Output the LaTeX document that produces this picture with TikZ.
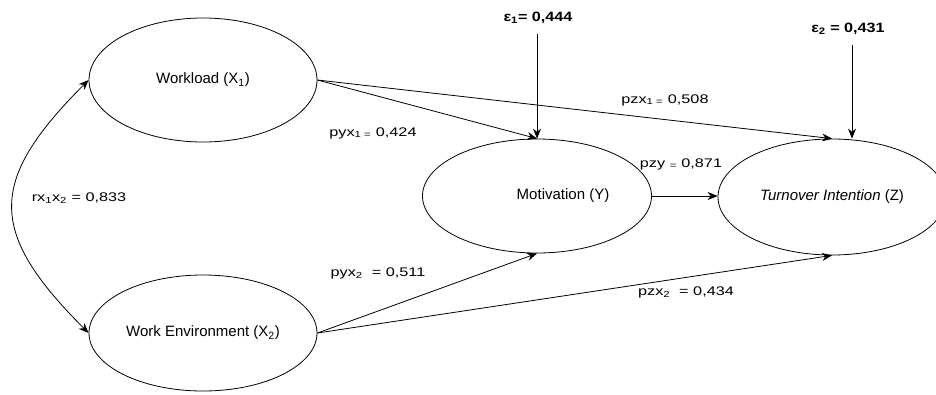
\documentclass[tikz,border=0pt]{standalone}
\usepackage{fontspec}
\setmainfont{Liberation Sans}
\newfontfamily\coeffont[FakeStretch=1.3]{Liberation Sans}
\newfontfamily\errfont[FakeStretch=1.2]{Liberation Sans}
\usetikzlibrary{shapes.geometric,arrows.meta,calc}

\begin{document}
\begin{tikzpicture}[x=1pt,y=-1pt,->,>={Stealth[length=10pt,width=8pt]},line width=0.8pt]
            \tikzstyle{construct}=[ellipse,draw,-,minimum width=228pt,minimum height=118pt,inner sep=0pt,font=\fontsize{15}{18}\selectfont]
            \tikzstyle{coef}=[font=\coeffont\fontsize{12.5}{14}\selectfont,inner sep=0pt]
            \tikzstyle{err}=[font=\errfont\bfseries\fontsize{13.5}{15}\selectfont,inner sep=0pt]

            \clip (0,0) rectangle (936,394);

            % Draw the constructs
            \node[construct,minimum height=124pt] (WL) at (203,80) {Workload (X\textsubscript{1})};
            \node[construct,minimum height=116pt] (WE) at (203,333) {Work Environment (X\textsubscript{2})};
            \node[construct,minimum height=114pt,minimum width=229pt] (MOT) at (537,196) {};
            \node[font=\fontsize{15}{18}\selectfont] (MOT-txt) at (563,196) {Motivation (Y)};
            \node[construct,minimum height=116pt] (TI) at (832,197) {\textit{Turnover Intention} (Z)};

            % Error terms
            \node[err] (E1) at (538,18) {ε\textsubscript{1}= 0,444};
            \node[err] (E2) at (848,29) {ε\textsubscript{2} = 0,431};
            \coordinate (E1-start) at (537,34);
            \coordinate (E2-start) at (852,45);
            \draw (E1-start) -- (MOT.north);
            \draw (E2-start) -- (E2-start |- TI.north);

            % Paths between the constructs
            \draw (WL.east) -- (MOT.north);
            \draw (WL.east) -- (TI.north);
            \draw (WE.east) -- (MOT.south);
            \draw (WE.east) -- (TI.south);
            \draw (MOT.east) -- (MOT.east -| TI.west);
            \draw[<->] (WL.west) to[out=225,in=135,looseness=1.45] (WE.west);

            % Path coefficients
            \node[coef] (c-pyx1) at (373,133) {pyx\textsubscript{1 =} 0,424};
            \node[coef] (c-pzx1) at (665,100) {pzx\textsubscript{1 =} 0,508};
            \node[coef] (c-pzy) at (681,164) {pzy \textsubscript{=} 0,871};
            \node[coef] (c-rx) at (79,198) {rx\textsubscript{1}x\textsubscript{2} = 0,833};
            \node[coef] (c-pyx2) at (378,273) {pyx\textsubscript{2} \ = 0,511};
            \node[coef] (c-pzx2) at (686,292) {pzx\textsubscript{2} \ = 0,434};
        \end{tikzpicture}
\end{document}
